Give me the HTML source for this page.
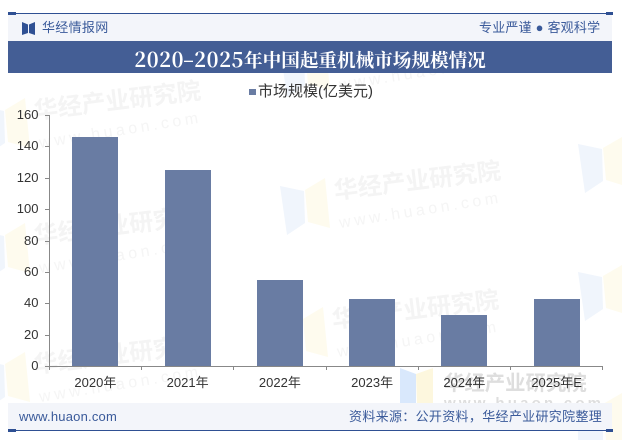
<!DOCTYPE html>
<html lang="zh">
<head>
<meta charset="utf-8">
<style>
html,body{margin:0;padding:0;background:#fff}
#page{position:relative;width:622px;height:440px;overflow:hidden;background:#fff;font-family:"Liberation Sans","Noto Sans CJK SC",sans-serif}
#page div{position:absolute}
svg{position:absolute;left:0;top:0}
</style>
</head>
<body>
<div id="page">
<svg width="622" height="440" viewBox="0 0 622 440">
  <g id="watermarks"></g>
  <g id="plot"></g>
</svg>
<div style="left:8px;top:14px;width:604px;height:27px;background:#f3f5fa"></div>
<div style="left:8px;top:13px;width:605px;height:1px;background:#2f5093"></div>
<div style="left:8px;top:12px;width:8px;height:3px;background:#2f5093"></div>
<div style="left:606px;top:12px;width:7px;height:3px;background:#2f5093"></div>
<svg width="622" height="440" viewBox="0 0 622 440" style="pointer-events:none">
  <path d="M22 22L28 24.500V33L22 35Z M35 22L29 24.500V33L35 35Z" fill="#2f5093"/>
</svg>
<div style="left:42px;top:19px;font-size:13px;line-height:18px;letter-spacing:.3px;color:#3a5a9a;white-space:nowrap">华经情报网</div>
<div style="left:479px;top:19px;font-size:13px;line-height:18px;letter-spacing:.2px;color:#3a5a9a;white-space:nowrap">专业严谨 ● 客观科学</div>
<div style="left:8px;top:41px;width:604px;height:32px;overflow:hidden;background:#445e95;color:#fff;text-align:center;font:bold 18.600px/36px 'Noto Serif CJK SC',serif;white-space:nowrap"><span style="font-size:20px;letter-spacing:.6px">2020<span style="display:inline-block;width:10px;text-align:center;transform:scaleX(1.600)">-</span>2025</span>年中国起重机械市场规模情况</div>
<div style="left:8px;top:403px;width:604px;height:27px;background:#f3f5fa"></div>
<div style="left:8px;top:430px;width:605px;height:1px;background:#2f5093"></div>
<div style="left:8px;top:429px;width:8px;height:3px;background:#2f5093"></div>
<div style="left:606px;top:429px;width:7px;height:3px;background:#2f5093"></div>
<div style="left:19px;top:408px;font-size:13px;line-height:18px;letter-spacing:.2px;color:#3a5a9a;white-space:nowrap">www.huaon.com</div>
<div style="left:349px;top:408px;font-size:13px;line-height:18px;letter-spacing:.32px;color:#3a5a9a;white-space:nowrap">资料来源：公开资料，华经产业研究院整理</div>
<div style="left:249px;top:89px;width:7px;height:6px;background:#697ca3"></div>
<div style="left:258px;top:83px;font-size:15px;line-height:18px;color:#333;white-space:nowrap">市场规模(亿美元)</div>
</div>
<script>
const categories = ['2020年','2021年','2022年','2023年','2024年','2025年E'];
const marketSize = [146, 125, 55, 42.7, 32.5, 42.7];
const yTicks = [0, 20, 40, 60, 80, 100, 120, 140, 160];

const NS = 'http://www.w3.org/2000/svg';
const plotLeft = 49.25, plotRight = 602.75, plotTop = 115, plotBottom = 366, yMax = 160;
const yScale = v => plotBottom - (v / yMax) * (plotBottom - plotTop);
const band = (plotRight - plotLeft) / categories.length;
const xCenter = i => plotLeft + band * (i + 0.5);
const barWidth = 46;
const axisColor = '#888';
const plot = document.getElementById('plot');
const marks = document.getElementById('watermarks');
const sans = '"Liberation Sans","Noto Sans CJK SC",sans-serif';

function make(parent, tag, attrs, text) {
  const el = document.createElementNS(NS, tag);
  for (const k in attrs) el.setAttribute(k, attrs[k]);
  if (text !== undefined) el.textContent = text;
  parent.appendChild(el);
  return el;
}

const faintSpots = [
  [280, 48], [-20, 106], [280, 186],
  [-20, 231], [278, 315], [-20, 360]
];
faintSpots.forEach(p => {
  const g = make(marks, 'g', {transform: `translate(${p[0]},${p[1]})`});
  
  
  make(g, 'path', {d: 'M0 0L24 5L25 37L7 49Z', fill: '#f0f5fc'});
  make(g, 'path', {d: 'M25 4L45 -8L50 42L28 36Z', fill: '#fefbee'});
  make(g, 'text', {transform: 'translate(55,13) rotate(-7)', 'font-size': 24, 'font-weight': 'bold', fill: '#f4f4f4', 'font-family': sans}, '华经产业研究院');
  make(g, 'text', {transform: 'translate(60,42) rotate(-9)', 'font-size': 16, 'letter-spacing': 3.600, fill: '#f5f5f5', 'font-family': sans}, 'www.huaon.com');
});

const edgeSpots = [144, 272];
edgeSpots.forEach(y => {
  const g = make(marks, 'g', {transform: `translate(578,${y})`});
  
  
  make(g, 'path', {d: 'M0 0L24 5L25 37L7 49Z', fill: '#f0f5fc'});
  make(g, 'path', {d: 'M25 4L44 -7V41L28 36Z', fill: '#fefbee'});
});
const cornerBlue = make(marks, 'path', {d: 'M578 431H603V440H578Z', fill: '#f0f5fc'});


const cornerYellow = make(marks, 'path', {d: 'M603 404L622 393V440H606Z', fill: '#fefbee'});



const strong = make(marks, 'g', {});


make(strong, 'path', {d: 'M400 368L416 374V403L400 412Z', fill: '#d9e8fc'});
make(strong, 'path', {d: 'M416 374L433 368V412L417 403Z', fill: '#fdf7de'});
make(strong, 'text', {x: 444, y: 390, 'font-size': 20.400, 'font-weight': 'bold', fill: '#dedede', 'font-family': sans}, '华经产业研究院');
make(strong, 'text', {x: 444, y: 408, 'font-size': 15, 'font-weight': 'bold', 'letter-spacing': 3.200, fill: '#dedede', 'font-family': sans}, 'www.huaon.com');

marketSize.forEach((v, i) => {
  const bar = make(plot, 'rect', {x: Math.round(xCenter(i) - barWidth / 2), y: Math.round(yScale(v)), width: barWidth, height: plotBottom - Math.round(yScale(v)), fill: '#697ca3'});
  
  
});

const yAxis = make(plot, 'line', {x1: 49.5, x2: 49.5, y1: plotTop, y2: plotBottom + 4, stroke: axisColor});


const xAxis = make(plot, 'line', {x1: 49, x2: 603, y1: plotBottom + .5, y2: plotBottom + .5, stroke: axisColor});



yTicks.forEach(t => {
  const y = Math.round(yScale(t)) + .5;
  const tick = make(plot, 'line', {x1: 45, x2: 49, y1: y, y2: y, stroke: axisColor});
  
  
  const label = make(plot, 'text', {x: 38.500, y: y + 3.700, 'text-anchor': 'end', 'font-size': 13, fill: '#333', 'font-family': sans}, t);
  
  
});

categories.forEach((c, i) => {
  const x = Math.floor(plotLeft + band * (i + 1)) + .5;
  const tick = make(plot, 'line', {x1: x, x2: x, y1: plotBottom, y2: plotBottom + 4, stroke: axisColor});
  
  
  const label = make(plot, 'text', {x: xCenter(i), y: plotBottom + 21, 'text-anchor': 'middle', 'font-size': 13, fill: '#333', 'font-family': sans}, c);
  
  
});
</script>
</body>
</html>
